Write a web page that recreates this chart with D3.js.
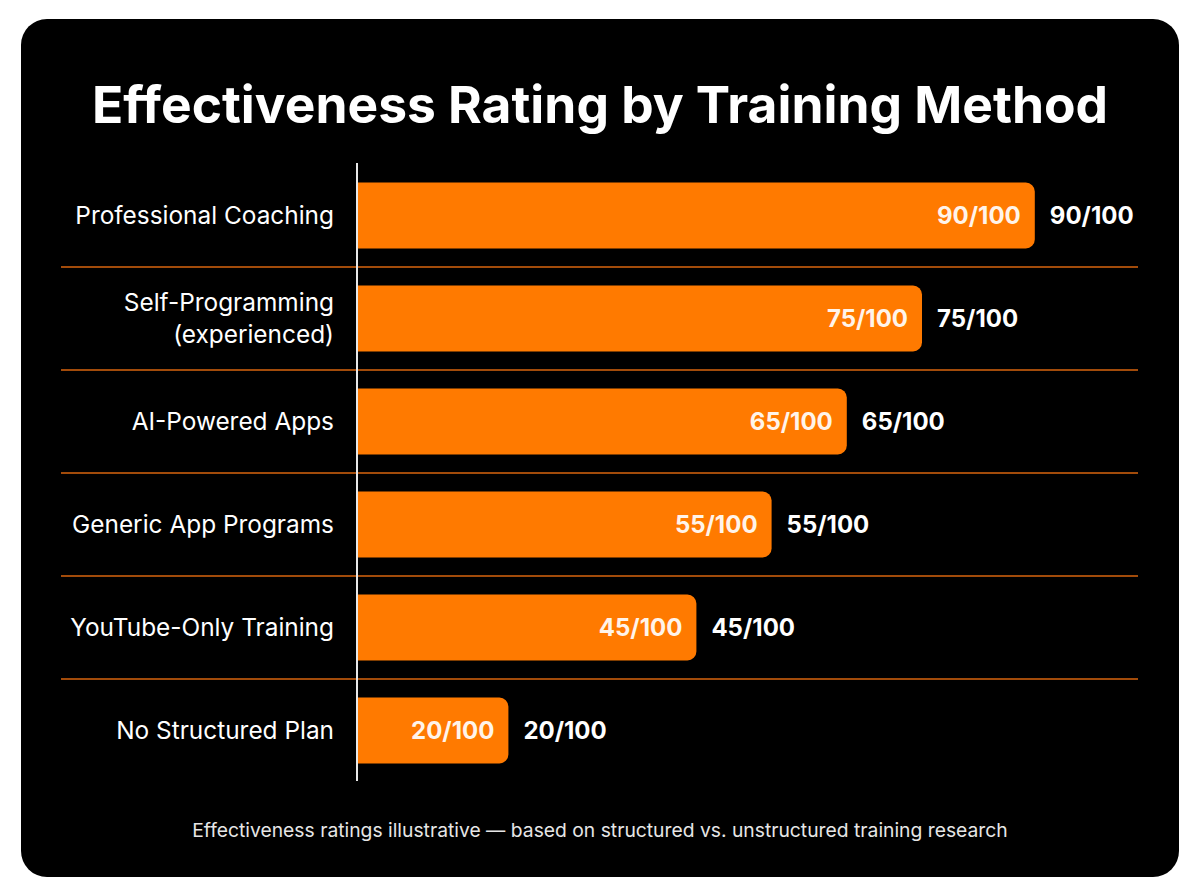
<!DOCTYPE html>
<html>
<head>
<meta charset="utf-8">
<script src="https://cdn.jsdelivr.net/npm/d3@7"></script>
<style>
  html, body { margin: 0; padding: 0; background: #ffffff; }
  svg { display: block; font-family: Inter, "Noto Sans", sans-serif; }
</style>
</head>
<body>
<svg id="chart" width="1200" height="896"></svg>
<script>
// chart data
const methods = [
    ["Professional Coaching"],
    ["Self-Programming", "(experienced)"],
    ["AI-Powered Apps"],
    ["Generic App Programs"],
    ["YouTube-Only Training"],
    ["No Structured Plan"]
];
const scores = [90, 75, 65, 55, 45, 20];
const maxScore = 100;

const title = "Effectiveness Rating by Training Method";
const footnote = "Effectiveness ratings illustrative \u2014 based on structured vs. unstructured training research";

const orange = "#ff7a00";

const svg = d3.select("#chart");
const width = +svg.attr("width");
const height = +svg.attr("height");

// dark card
svg.append("rect")
    .attr("x", 21).attr("y", 19)
    .attr("width", 1158).attr("height", 858)
    .attr("rx", 26)
    .attr("fill", "#000000");

svg.append("text")
    .attr("x", width / 2)
    .attr("y", 123)
    .attr("text-anchor", "middle")
    .attr("fill", "#ffffff")
    .attr("font-size", 51.5)
    .attr("font-weight", 700)
    .text(title);

const rows = methods.map((m, i) => ({ label: m, value: scores[i], key: m.join(" ") }));

const x = d3.scaleLinear().domain([0, maxScore]).range([358, 1110]);
const y = d3.scaleBand()
    .domain(rows.map(d => d.key))
    .range([164, 782])
    .paddingInner(0.36)
    .paddingOuter(0.18);

const step = y.step();

// separators between rows
svg.append("g")
    .selectAll("line")
    .data(rows.slice(1))
    .join("line")
    .attr("x1", 61).attr("x2", 1138)
    .attr("y1", d => y(d.key) - step * y.paddingInner() / 2)
    .attr("y2", d => y(d.key) - step * y.paddingInner() / 2)
    .attr("stroke", "#d8640e")
    .attr("stroke-width", 1.5);

// bar with rounded right end only
function barPath(d) {
    const x0 = x(0), x1 = x(d.value), y0 = y(d.key), h = y.bandwidth(), r = 9;
    const p = d3.path();
    p.moveTo(x0, y0);
    p.lineTo(x1 - r, y0);
    p.arcTo(x1, y0, x1, y0 + r, r);
    p.lineTo(x1, y0 + h - r);
    p.arcTo(x1, y0 + h, x1 - r, y0 + h, r);
    p.lineTo(x0, y0 + h);
    p.closePath();
    return p.toString();
}

svg.append("g")
    .selectAll("path")
    .data(rows)
    .join("path")
    .attr("d", barPath)
    .attr("fill", orange);

// axis line
svg.append("line")
    .attr("x1", 357).attr("x2", 357)
    .attr("y1", 163).attr("y2", 781)
    .attr("stroke", "#e8e8e8")
    .attr("stroke-width", 2);

// value labels inside and outside
svg.append("g")
    .selectAll("text")
    .data(rows)
    .join("text")
    .attr("x", d => x(d.value) - 14)
    .attr("y", d => y(d.key) + y.bandwidth() / 2)
    .attr("dy", "0.36em")
    .attr("text-anchor", "end")
    .attr("fill", "#fff4ea")
    .attr("font-size", 24)
    .attr("font-weight", 700)
    .text(d => d.value + "/" + maxScore);

svg.append("g")
    .selectAll("text")
    .data(rows)
    .join("text")
    .attr("x", d => x(d.value) + 15)
    .attr("y", d => y(d.key) + y.bandwidth() / 2)
    .attr("dy", "0.36em")
    .attr("fill", "#ffffff")
    .attr("font-size", 24)
    .attr("font-weight", 700)
    .text(d => d.value + "/" + maxScore);

// category labels
const labels = svg.append("g")
    .selectAll("text")
    .data(rows)
    .join("text")
    .attr("x", 334)
    .attr("y", d => y(d.key) + y.bandwidth() / 2)
    .attr("text-anchor", "end")
    .attr("fill", "#ffffff")
    .attr("font-size", 24.4);

labels.each(function(d) {
    const n = d.label.length;
    d3.select(this).selectAll("tspan")
        .data(d.label)
        .join("tspan")
        .attr("x", 334)
        .attr("dy", (t, i) => i === 0 ? (0.36 - (n - 1) * 0.65) + "em" : "1.3em")
        .text(t => t);
});

svg.append("text")
    .attr("x", width / 2)
    .attr("y", 837)
    .attr("text-anchor", "middle")
    .attr("fill", "#e6e6e6")
    .attr("font-size", 19.3)
    .text(footnote);
</script>
</body>
</html>
